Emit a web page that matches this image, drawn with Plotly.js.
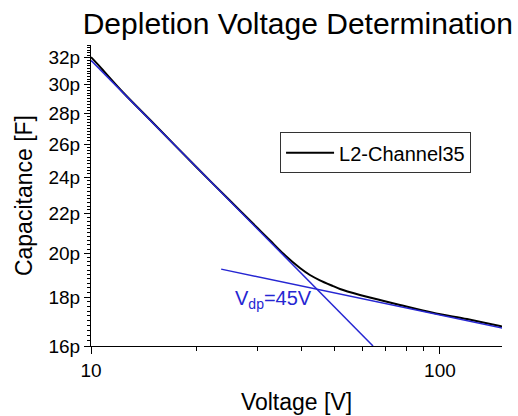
<!DOCTYPE html>
<html>
<head>
<meta charset="utf-8">
<script src="https://cdn.plot.ly/plotly-3.0.1.min.js"></script>
<style>html,body{margin:0;padding:0;background:#fff;}#chart{width:518px;height:416px;}</style>
</head>
<body>
<div id="chart"></div>
<script>
// Measured C-V curve (voltage in V, capacitance in pF)
var voltage = [10, 10.6, 11, 12.4, 15, 20, 25, 30, 32.6, 35.6, 39.7, 42.4, 45.3, 49.4, 51.7, 59, 67.3, 76.8, 95.5, 119.5, 148.6, 158.7];
var capacitance = [32.05, 31.33, 30.85, 29.4, 27.4, 24.62, 22.7, 21.25, 20.62, 19.97, 19.3, 18.98, 18.74, 18.48, 18.35, 18.09, 17.87, 17.66, 17.33, 17.07, 16.79, 16.70];
// Fit line below depletion
var fit1V = [10, 64.3];
var fit1C = [31.8, 16.0];
// Fit line above depletion
var fit2V = [23.6, 158];
var fit2C = [19.25, 16.65];
// Tick labels
var yTicks = [16, 18, 20, 22, 24, 26, 28, 30, 32];
var yTickText = ['16p', '18p', '20p', '22p', '24p', '26p', '28p', '30p', '32p'];
var xTicks = [10, 100];
var xTickText = ['10', '100'];
var xMinor = [20, 30, 40, 50, 60, 70, 80, 90];
var seriesName = 'L2-Channel35';
var vdpLabel = 'V<sub>dp</sub>=45V';

var yMinor = [];
for (var k = 162; k <= 330; k += 2) { if (k % 20 !== 0) yMinor.push(k / 10); }

var font = 'Liberation Sans, Arial, sans-serif';
var blue = '#2626d2';
var xr = [1, Math.log10(150.6)];
var yr = [Math.log10(16), Math.log10(33)];

var traces = [
  {x: [20], y: [20], type: 'scatter', mode: 'markers', xaxis: 'x2', yaxis: 'y2', showlegend: false,
   marker: {opacity: 0, size: 1}, hoverinfo: 'skip'},
  {x: voltage, y: capacitance, type: 'scatter', mode: 'lines', name: seriesName,
   line: {color: '#000000', width: 2, shape: 'spline', smoothing: 0.8}},
  {x: fit1V, y: fit1C, type: 'scatter', mode: 'lines', showlegend: false,
   line: {color: blue, width: 1.5}},
  {x: fit2V, y: fit2C, type: 'scatter', mode: 'lines', showlegend: false,
   line: {color: blue, width: 1.5}}
];

var layout = {
  width: 518, height: 416,
  margin: {l: 91, r: 16, t: 45, b: 70},
  paper_bgcolor: '#ffffff', plot_bgcolor: '#ffffff',
  font: {family: font, color: '#000000', size: 18},
  title: {text: 'Depletion Voltage Determination', font: {family: font, size: 30, color: '#000'},
          x: 0.575, xref: 'container', xanchor: 'center', y: 0.943, yref: 'container', yanchor: 'middle'},
  showlegend: true,
  legend: {x: 0.46, y: 0.71, xanchor: 'left', yanchor: 'top', bgcolor: '#ffffff',
           bordercolor: '#333333', borderwidth: 1, font: {family: font, size: 20, color: '#000'},
           itemwidth: 48},
  xaxis: {type: 'log', range: xr, showgrid: false, zeroline: false,
          showline: true, linecolor: '#000', linewidth: 1,
          tickmode: 'array', tickvals: xTicks, ticktext: xTickText,
          ticks: 'outside', ticklen: 7, tickcolor: '#000', tickwidth: 1,
          tickfont: {family: font, size: 19, color: '#000'},
          title: {text: 'Voltage [V]', font: {family: font, size: 23, color: '#000'}, standoff: 14}},
  xaxis2: {type: 'log', range: xr, overlaying: 'x', anchor: 'y', side: 'bottom',
           showgrid: false, zeroline: false, showline: false, showticklabels: false,
           tickmode: 'array', tickvals: xMinor, ticktext: xMinor.map(String),
           ticks: 'outside', ticklen: 4, tickcolor: '#000', tickwidth: 1},
  yaxis: {type: 'log', range: yr, showgrid: false, zeroline: false,
          showline: true, linecolor: '#000', linewidth: 1,
          tickmode: 'array', tickvals: yTicks, ticktext: yTickText,
          ticks: 'outside', ticklen: 6, tickcolor: '#000', tickwidth: 1,
          tickfont: {family: font, size: 19, color: '#000'}},
  yaxis2: {type: 'log', range: yr, overlaying: 'y', anchor: 'x', side: 'left',
           showgrid: false, zeroline: false, showline: false, showticklabels: false,
           tickmode: 'array', tickvals: yMinor, ticktext: yMinor.map(String),
           ticks: 'outside', ticklen: 3, tickcolor: '#000', tickwidth: 1},
  annotations: [
    {text: vdpLabel, xref: 'paper', yref: 'paper', x: 0.445, y: 0.153,
     xanchor: 'center', yanchor: 'middle', showarrow: false,
     font: {family: font, size: 20, color: blue}},
    {text: 'Capacitance [F]', xref: 'paper', yref: 'paper', x: -0.163, y: 0.498, textangle: -90,
     xanchor: 'center', yanchor: 'middle', showarrow: false,
     font: {family: font, size: 23, color: '#000'}}
  ]
};

Plotly.newPlot('chart', traces, layout, {displayModeBar: false, staticPlot: true});
</script>
</body>
</html>
